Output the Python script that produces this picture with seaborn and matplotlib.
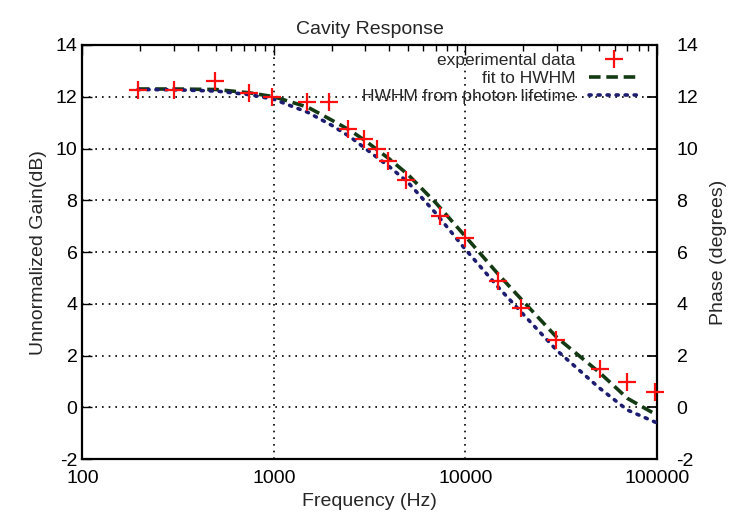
import matplotlib
matplotlib.use("Agg")
import matplotlib.pyplot as plt
import matplotlib.ticker as mticker
import seaborn as sns
import pandas as pd

# measured data
freq_data = [195, 300, 490, 740, 980, 1480, 1950, 2450, 2950, 3450, 3950, 4900,
             7400, 9900, 14800, 19600, 29800, 50500, 70000, 98000]
gain_data = [12.25, 12.28, 12.6, 12.15, 12.0, 11.8, 11.78, 10.75, 10.35, 10.0, 9.5, 8.8,
             7.4, 6.55, 4.9, 3.85, 2.6, 1.5, 1.0, 0.6]

# curve read-offs
freq_curve = [195, 300, 500, 750, 1000, 1500, 2000, 2500, 3000, 4000, 5000, 7000,
              10000, 15000, 20000, 30000, 50000, 70000, 100000]
gain_fit = [12.3, 12.3, 12.28, 12.15, 12.0, 11.6, 11.1, 10.7, 10.3, 9.6, 9.0, 7.9,
            6.6, 5.1, 4.1, 2.7, 1.35, 0.35, -0.3]
gain_life = [12.28, 12.27, 12.22, 12.08, 11.9, 11.4, 10.9, 10.45, 10.0, 9.3, 8.7, 7.5,
             6.1, 4.6, 3.6, 2.2, 0.75, -0.1, -0.6]

x_ticks = [100, 1000, 10000, 100000]
y_ticks = [-2, 0, 2, 4, 6, 8, 10, 12, 14]

sns.set_theme(style="white")
plt.rcParams['font.family'] = ['Liberation Sans', 'DejaVu Sans']
plt.rcParams['axes.unicode_minus'] = False

fig = plt.figure(figsize=(7.35, 5.23), dpi=100)
ax = fig.add_axes([0.112, 0.122, 0.782, 0.792])

df_data = pd.DataFrame({"f": freq_data, "g": gain_data})
df_curve = pd.DataFrame({"f": freq_curve, "fit": gain_fit, "life": gain_life})

sns.lineplot(data=df_curve, x="f", y="fit", ax=ax, color="#143a14", lw=2.6,
             linestyle=(0, (3.2, 1.6)), label="fit to HWHM", zorder=3)
sns.lineplot(data=df_curve, x="f", y="life", ax=ax, color="#1c1c70", lw=2.6,
             linestyle=(0, (0.6, 1.9)), dash_capstyle="round",
             label="HWHM from photon lifetime", zorder=3)
ax.plot(df_data["f"], df_data["g"], linestyle="none", marker="+", color="#ff1010",
        markersize=13, mew=1.6, label="experimental data", zorder=4, clip_on=False)

ax.set_xscale("log")
ax.set_xlim(100, 100000)
ax.set_ylim(-2, 14)
ax.set_xticks(x_ticks)
ax.xaxis.set_major_formatter(mticker.FuncFormatter(lambda v, p: f"{int(round(v))}"))
ax.xaxis.set_minor_locator(mticker.LogLocator(base=10, subs=range(2, 10)))
ax.xaxis.set_minor_formatter(mticker.NullFormatter())
ax.set_yticks(y_ticks)
ax.tick_params(axis="both", which="both", direction="in", top=True, right=True,
               labelsize=14, colors="black")
ax.tick_params(which="major", length=7, width=1)
ax.tick_params(which="minor", length=4, width=1)
ax.tick_params(axis="x", pad=8)

ax.grid(True, which="major", color="black", linestyle=(0, (1, 3)), lw=1.2)
for s in ax.spines.values():
    s.set_color("black")
    s.set_linewidth(1.6)

ax.set_xlabel("Frequency (Hz)", fontsize=14, labelpad=4)
ax.set_ylabel("Unnormalized Gain(dB)", fontsize=14, labelpad=6)
ax.set_title("Cavity Response", fontsize=14, pad=8)

ax2 = ax.twinx()
ax2.set_ylim(-2, 14)
ax2.set_yticks(y_ticks)
ax2.tick_params(axis="y", direction="in", length=7, labelsize=14, colors="black", pad=14)
ax2.set_ylabel("Phase (degrees)", fontsize=14, labelpad=8)
for s in ax2.spines.values():
    s.set_visible(False)

handles, labels = ax.get_legend_handles_labels()
order = [labels.index("experimental data"), labels.index("fit to HWHM"),
         labels.index("HWHM from photon lifetime")]
leg = ax.legend([handles[i] for i in order], [labels[i] for i in order],
                loc="upper right", frameon=False, markerfirst=False, fontsize=12.5,
                handlelength=2.8, borderaxespad=0.2, labelspacing=0.15,
                bbox_to_anchor=(0.985, 1.005))
for t in leg.get_texts():
    t.set_ha("right")
leg._legend_box.align = "right"

fig.savefig("out.png", dpi=100, facecolor="white")
